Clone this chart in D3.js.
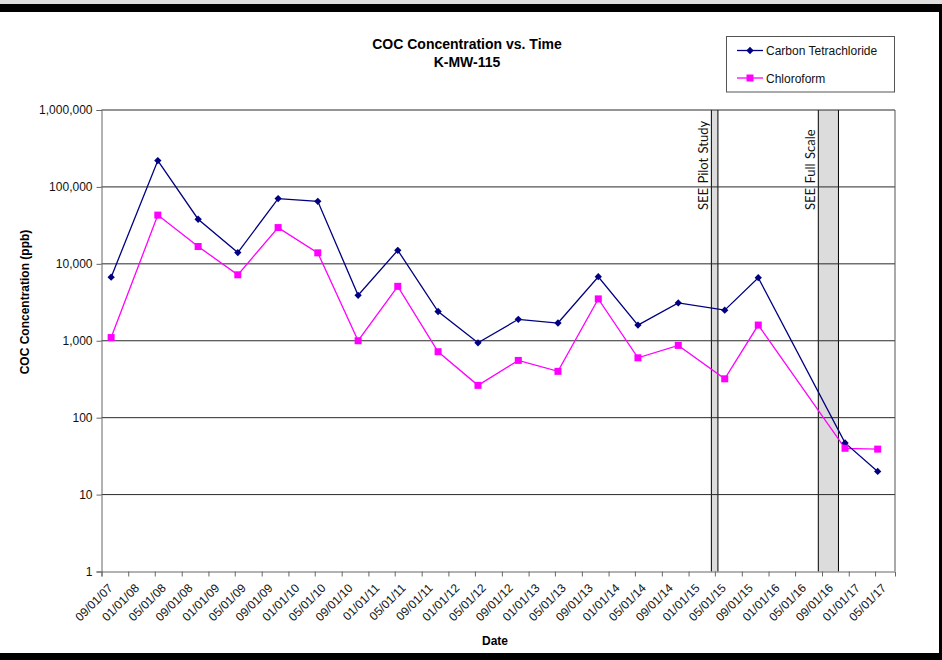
<!DOCTYPE html>
<html>
<head>
<meta charset="utf-8">
<script src="https://cdn.jsdelivr.net/npm/d3@7"></script>
<style>
  html, body { margin: 0; padding: 0; background: #fff; }
  svg { display: block; }
  text { font-family: "Liberation Sans", Arial, sans-serif; }
</style>
</head>
<body>
<svg id="chart" width="942" height="660"></svg>
<script>
// Sampling dates for well K-MW-115
const sampleDates = [
  "2007-10-15", "2008-05-15", "2008-11-15", "2009-05-15", "2009-11-15",
  "2010-05-15", "2010-11-15", "2011-05-15", "2011-11-15", "2012-05-15",
  "2012-11-15", "2013-05-15", "2013-11-15", "2014-05-15", "2014-11-15",
  "2015-06-15", "2015-11-15", "2016-12-15", "2017-05-13"
];
// Concentrations in ppb
const carbonTet = [
  6700, 220000, 38000, 14000, 70500, 65000, 3900, 15000, 2400, 940,
  1900, 1700, 6800, 1600, 3100, 2500, 6600, 47, 20
];
const chloroform = [
  1100, 43000, 16800, 7200, 29600, 13900, 1000, 5100, 720, 263,
  555, 400, 3500, 600, 870, 320, 1600, 40, 39
];
// Remediation periods (shaded)
const events = [
  { label: "SEE Pilot Study", start: "2015-04-15", end: "2015-05-15" },
  { label: "SEE Full Scale", start: "2016-08-15", end: "2016-11-15" }
];
const yTicks = [1, 10, 100, 1000, 10000, 100000, 1000000];
const seriesNames = ["Carbon Tetrachloride", "Chloroform"];

const parse = d3.timeParse("%Y-%m-%d");
const fmtDate = d3.timeFormat("%m/%d/%y");
const svg = d3.select("#chart");

// Outer frame
svg.append("rect").attr("x", 0).attr("y", 0).attr("width", 942).attr("height", 4).attr("fill", "#dedede");
svg.append("rect").attr("x", 0).attr("y", 4).attr("width", 942).attr("height", 8).attr("fill", "#000");
svg.append("rect").attr("x", 939).attr("y", 4).attr("width", 3).attr("height", 656).attr("fill", "#000");
svg.append("rect").attr("x", 0).attr("y", 653).attr("width", 942).attr("height", 7).attr("fill", "#000");

const plot = { left: 101.5, right: 895, top: 110, bottom: 571.5 };

const x = d3.scaleTime()
  .domain([parse("2007-09-01"), parse("2017-07-31")])
  .range([plot.left, plot.right]);
const y = d3.scaleLog()
  .domain([1, 1000000])
  .range([plot.bottom, plot.top]);

// Shaded event bands
const g = svg.append("g");
events.forEach(ev => {
  const x0 = x(parse(ev.start)), x1 = x(parse(ev.end));
  g.append("rect")
    .attr("x", x0).attr("y", plot.top)
    .attr("width", x1 - x0).attr("height", plot.bottom - plot.top)
    .attr("fill", "#dcdcdc");
  [x0, x1].forEach(xx => g.append("line")
    .attr("x1", xx).attr("x2", xx).attr("y1", plot.top).attr("y2", plot.bottom)
    .attr("stroke", "#000").attr("stroke-width", 1));
  g.append("text")
    .attr("transform", `translate(${x0 - 3},${210}) rotate(-90)`)
    .attr("font-size", 13)
    .attr("fill", "#111")
    .style("font-family", "Lato, sans-serif")
    .style("word-spacing", "1px")
    .text(ev.label);
});

// Horizontal gridlines
g.selectAll(".grid").data(yTicks.slice(1)).enter().append("line")
  .attr("x1", plot.left).attr("x2", plot.right)
  .attr("y1", d => y(d)).attr("y2", d => y(d))
  .attr("stroke", "#2a2a2a").attr("stroke-width", 1);

// Plot border (right side)
g.append("line").attr("x1", plot.right).attr("x2", plot.right)
  .attr("y1", plot.top).attr("y2", plot.bottom).attr("stroke", "#555");

// Y axis
const yAxis = d3.axisLeft(y).tickValues(yTicks).tickFormat(d3.format(",")).tickSizeOuter(0).tickSize(5);
const yg = svg.append("g").attr("transform", `translate(${plot.left},0)`).call(yAxis);
yg.select(".domain").attr("stroke", "#666");
yg.selectAll(".tick line").attr("stroke", "#666");
yg.selectAll(".tick text").attr("font-size", 12).attr("fill", "#111")
  .attr("font-family", "Liberation Sans, Arial, sans-serif").attr("x", -9);

// X axis
const xTickDates = d3.timeMonth.every(4).range(parse("2007-09-01"), parse("2017-05-02"));
const xAxis = d3.axisBottom(x).tickValues(xTickDates).tickFormat(fmtDate).tickSizeOuter(0).tickSize(5);
const xg = svg.append("g").attr("transform", `translate(0,${plot.bottom})`).call(xAxis);
xg.select(".domain").attr("stroke", "#666");
xg.selectAll(".tick line").attr("stroke", "#666");
xg.selectAll(".tick text")
  .attr("font-size", 12).attr("fill", "#111")
  .attr("font-family", "Liberation Sans, Arial, sans-serif")
  .attr("text-anchor", "end")
  .attr("transform", "translate(5,11) rotate(-45)")
  .attr("x", 0).attr("y", 0).attr("dy", "0.75em");

// Axis titles
svg.append("text").attr("x", 495).attr("y", 645).attr("text-anchor", "middle")
  .attr("font-size", 12).attr("font-weight", "bold").attr("fill", "#000").text("Date");
svg.append("text").attr("transform", "translate(29,302) rotate(-90)").attr("text-anchor", "middle")
  .attr("font-size", 12).attr("font-weight", "bold").attr("fill", "#000").text("COC Concentration (ppb)");

// Chart title
svg.append("text").attr("x", 467).attr("y", 49).attr("text-anchor", "middle")
  .attr("font-size", 14).attr("font-weight", "bold").text("COC Concentration vs. Time");
svg.append("text").attr("x", 467).attr("y", 67).attr("text-anchor", "middle")
  .attr("font-size", 14).attr("font-weight", "bold").text("K-MW-115");

// Series
const dates = sampleDates.map(parse);
const ctData = dates.map((d, i) => ({ d, v: carbonTet[i] }));
const cfData = dates.map((d, i) => ({ d, v: chloroform[i] }));
const line = d3.line().x(p => x(p.d)).y(p => y(p.v));

svg.append("path").datum(cfData).attr("d", line)
  .attr("fill", "none").attr("stroke", "#ff00ff").attr("stroke-width", 1.3);
svg.append("path").datum(ctData).attr("d", line)
  .attr("fill", "none").attr("stroke", "#000080").attr("stroke-width", 1.3);

const diamond = d3.symbol().type(d3.symbolDiamond2).size(34);
svg.selectAll(".ct").data(ctData).enter().append("path")
  .attr("d", diamond)
  .attr("transform", p => `translate(${x(p.d)},${y(p.v)})`)
  .attr("fill", "#000080");
svg.selectAll(".cf").data(cfData).enter().append("rect")
  .attr("x", p => x(p.d) - 3.5).attr("y", p => y(p.v) - 3.5)
  .attr("width", 7).attr("height", 7)
  .attr("fill", "#ff00ff");

// Legend
const lg = svg.append("g");
lg.append("rect").attr("x", 726.5).attr("y", 36.5).attr("width", 168).attr("height", 55.5)
  .attr("fill", "#fff").attr("stroke", "#555");
const legendItems = [
  { name: seriesNames[0], color: "#000080", y: 50.5, shape: "diamond" },
  { name: seriesNames[1], color: "#ff00ff", y: 78, shape: "square" }
];
legendItems.forEach(it => {
  lg.append("line").attr("x1", 737).attr("x2", 763).attr("y1", it.y).attr("y2", it.y)
    .attr("stroke", it.color).attr("stroke-width", 1.3);
  if (it.shape === "diamond") {
    lg.append("path").attr("d", diamond).attr("transform", `translate(750,${it.y})`).attr("fill", it.color);
  } else {
    lg.append("rect").attr("x", 746.5).attr("y", it.y - 3.5).attr("width", 7).attr("height", 7).attr("fill", it.color);
  }
  lg.append("text").attr("x", 766).attr("y", it.y + 4.5).attr("font-size", 12).attr("fill", "#111").text(it.name);
});
</script>
</body>
</html>
